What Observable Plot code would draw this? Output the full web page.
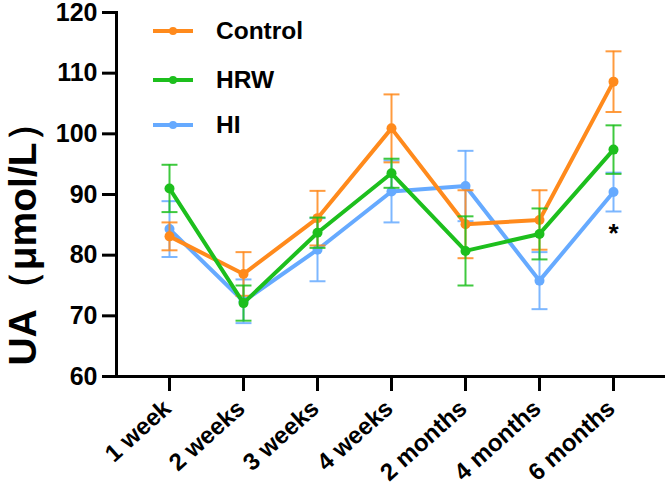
<!DOCTYPE html>
<html>
<head>
<meta charset="utf-8">
<script src="https://cdn.jsdelivr.net/npm/d3@7"></script>
<script src="https://cdn.jsdelivr.net/npm/@observablehq/plot@0.6"></script>
<style>
  html, body { margin: 0; padding: 0; background: #fff; }
  #wrap { position: relative; width: 668px; height: 501px; font-family: "Liberation Sans", Arial, sans-serif; }
  #legend { position: absolute; left: 0; top: 0; }
  .item { position: absolute; display: flex; align-items: center; }
  .item span { font-weight: bold; font-size: 24.5px; color: #000; margin-left: 23px; }
  g[aria-label="ylabel"] text { letter-spacing: 2px; }
</style>
</head>
<body>
<div id="wrap"><div id="legend"></div></div>
<script>
const categories = ["1 week", "2 weeks", "3 weeks", "4 weeks", "2 months", "4 months", "6 months"];
const seriesNames = ["Control", "HRW", "HI"];
const seriesColors = ["#FF8A1C", "#1DBF1D", "#66AAFF"];
const controlMean = [83.1, 76.9, 86.1, 100.9, 85.1, 85.8, 108.6];
const controlSem  = [2.3, 3.6, 4.5, 5.6, 5.6, 4.9, 5.0];
const hrwMean = [91.0, 72.1, 83.7, 93.5, 80.7, 83.5, 97.4];
const hrwSem  = [3.9, 2.9, 2.5, 2.4, 5.7, 4.2, 4.0];
const hiMean = [84.3, 72.4, 80.9, 90.5, 91.4, 75.8, 90.4];
const hiSem  = [4.6, 3.6, 5.2, 5.1, 5.8, 4.7, 3.2];
const yTicks = [60, 70, 80, 90, 100, 110, 120];
const yLabel = "UA（μmol/L）";
const marks_ = [{x: "6 months", y: 84.6, text: "*"}];

const means = {Control: controlMean, HRW: hrwMean, HI: hiMean};
const sems = {Control: controlSem, HRW: hrwSem, HI: hiSem};
const colorOf = Object.fromEntries(seriesNames.map((s, i) => [s, seriesColors[i]]));
const drawOrder = ["HI", "Control", "HRW"];

const rows = drawOrder.flatMap(s => categories.map((c, i) => ({
  series: s, x: c, y: means[s][i], lo: means[s][i] - sems[s][i], hi: means[s][i] + sems[s][i]
})));

const capSymbol = {
  draw(ctx, size) {
    const w = Math.sqrt(size);
    ctx.moveTo(-w, 0); ctx.lineTo(w, 0);
  }
};

const font = '"Liberation Sans", Arial, sans-serif';
const marks = [
  Plot.ruleY([60], {stroke: "#000", strokeWidth: 3}),
  Plot.frame({anchor: "left", stroke: "#000", strokeWidth: 3}),
  Plot.axisY({ticks: yTicks, tickSize: 14, strokeWidth: 3, tickFormat: () => "", label: null}),
  Plot.axisX({tickSize: 15, strokeWidth: 3, tickFormat: () => "", label: null}),
  Plot.text(yTicks, {y: d => d, text: d => String(d), frameAnchor: "left", textAnchor: "end", dx: -19, fontSize: 25, fontWeight: "bold", fill: "#000"}),
  Plot.text(categories, {x: d => d, text: d => d, frameAnchor: "bottom", textAnchor: "end", rotate: -42, dx: 3, dy: 34, fontSize: 24, fontWeight: "bold", fill: "#000"}),
  Plot.text([yLabel], {text: d => d, frameAnchor: "left", textAnchor: "middle", rotate: -90, dx: -93, dy: 40, fontSize: 39, fontWeight: "bold", fill: "#000", ariaLabel: "ylabel"})
];
for (const s of drawOrder) {
  const d = rows.filter(r => r.series === s);
  const c = colorOf[s];
  marks.push(
    Plot.ruleX(d, {x: "x", y1: "lo", y2: "hi", stroke: c, strokeWidth: 2, strokeOpacity: 0.85}),
    Plot.dot(d, {x: "x", y: "lo", symbol: capSymbol, r: 4.5, stroke: c, strokeWidth: 2, strokeOpacity: 0.85}),
    Plot.dot(d, {x: "x", y: "hi", symbol: capSymbol, r: 4.5, stroke: c, strokeWidth: 2, strokeOpacity: 0.85}),
    Plot.line(d, {x: "x", y: "y", stroke: c, strokeWidth: 4}),
    Plot.dot(d, {x: "x", y: "y", r: 5, fill: c})
  );
}
marks.push(Plot.text(marks_, {x: "x", y: "y", text: "text", fontSize: 26, fontWeight: "bold", fill: "#000", dy: 6}));

const chart = Plot.plot({
  width: 668, height: 501,
  marginLeft: 116, marginRight: 3, marginTop: 12, marginBottom: 125,
  style: {fontFamily: font, background: "#fff", overflow: "visible"},
  x: {type: "point", domain: categories, padding: 0.67},
  y: {domain: [60, 120]},
  marks
});
document.getElementById("wrap").prepend(chart);

const legend = document.getElementById("legend");
const legendTops = [31, 80, 125];
seriesNames.forEach((s, i) => {
  const item = document.createElement("div");
  item.className = "item";
  item.style.left = "153px";
  item.style.top = (legendTops[i] - 15) + "px";
  item.style.height = "30px";
  item.innerHTML = `<svg width="40" height="10"><line x1="0" y1="5" x2="40" y2="5" stroke="${seriesColors[i]}" stroke-width="4"/><circle cx="20" cy="5" r="4" fill="${seriesColors[i]}"/></svg><span>${s}</span>`;
  legend.appendChild(item);
});
</script>
</body>
</html>
